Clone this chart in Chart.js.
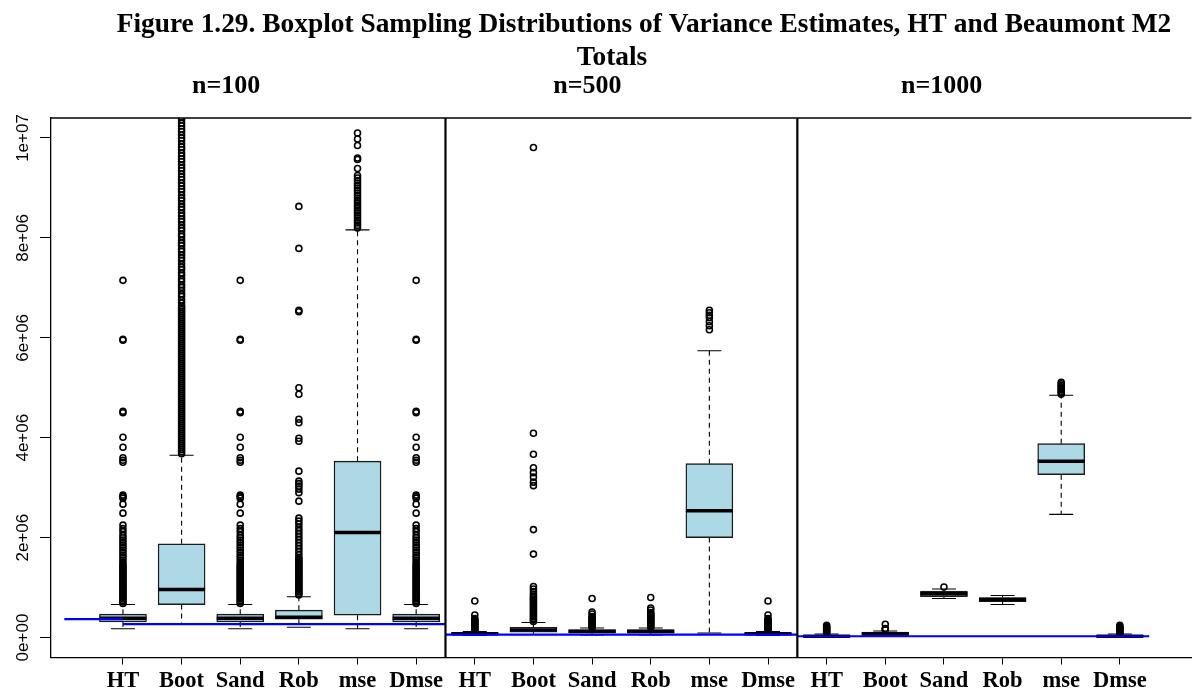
<!DOCTYPE html>
<html>
<head>
<meta charset="utf-8">
<script src="https://cdn.jsdelivr.net/npm/chart.js@4.4.0/dist/chart.umd.min.js"></script>
<style>
  html, body { margin: 0; padding: 0; background: #fff; overflow: hidden; }
</style>
</head>
<body>
<canvas id="boxChart" width="1197" height="691"></canvas>
<script>
// all values in millions (1e6)
const methods = ["HT", "Boot", "Sand", "Rob", "mse", "Dmse"];
const sampleSizes = ["n=100", "n=500", "n=1000"];
const titleLines = ["Figure 1.29. Boxplot Sampling Distributions of Variance Estimates, HT and Beaumont M2", "Totals"];
const xPositions = [1, 2, 3, 4, 5, 6, 7, 8, 9, 10, 11, 12, 13, 14, 15, 16, 17, 18];
const xTickLabels = methods.concat(methods, methods);
const yTickValues = [0, 2, 4, 6, 8, 10];
const yTickLabels = ["0e+00", "2e+06", "4e+06", "6e+06", "8e+06", "1e+07"];

// five number summaries: HT, Boot, Sand, Rob, mse, Dmse
const lo100 = [0.177, 0.28, 0.177, 0.205, 0.177, 0.177];
const q1_100 = [0.312, 0.66, 0.312, 0.366, 0.447, 0.312];
const med100 = [0.385, 0.96, 0.385, 0.405, 2.10, 0.385];
const q3_100 = [0.467, 1.875, 0.467, 0.547, 3.53, 0.467];
const hi100 = [0.66, 3.65, 0.66, 0.815, 8.16, 0.66];

const lo500 = [0.04, 0.06, 0.05, 0.05, 0.09, 0.04];
const q1_500 = [0.065, 0.105, 0.097, 0.09, 2.0, 0.065];
const med500 = [0.075, 0.15, 0.12, 0.12, 2.54, 0.075];
const q3_500 = [0.09, 0.205, 0.157, 0.157, 3.48, 0.09];
const hi500 = [0.12, 0.30, 0.19, 0.19, 5.74, 0.12];

const lo1000 = [0.0, 0.02, 0.78, 0.66, 2.465, 0.0];
const q1_1000 = [0.01, 0.045, 0.82, 0.72, 3.26, 0.01];
const med1000 = [0.025, 0.07, 0.875, 0.76, 3.53, 0.025];
const q3_1000 = [0.045, 0.11, 0.93, 0.80, 3.88, 0.045];
const hi1000 = [0.07, 0.13, 0.97, 0.84, 4.85, 0.07];

// outliers, n=100
const htOut100 = [7.15, 5.97, 5.95, 4.53, 4.50, 4.01, 3.81, 3.60, 3.55, 3.51, 2.85, 2.82, 2.79, 2.67, 2.49,
  2.25, 2.18, 2.12, 2.05, 2.00, 1.95, 1.90, 1.85, 1.80, 1.75, 1.70, 1.65, 1.60, 1.55, 1.50,
  1.46, 1.43, 1.40, 1.37, 1.34, 1.31, 1.28, 1.25, 1.22, 1.19, 1.16, 1.13, 1.10, 1.07, 1.04,
  1.01, 0.98, 0.95, 0.92, 0.89, 0.86, 0.83, 0.80, 0.77, 0.74, 0.71, 0.68];
const sandOut100 = htOut100; // Sand and Dmse columns look the same as HT
const dmseOut100 = htOut100;
const bootOut100 = [3.68, 3.72, 3.76, 3.80, 3.84, 3.88, 3.92, 3.96, 4.00, 4.04, 4.08, 4.12, 4.16, 4.20, 4.24,
  4.28, 4.32, 4.36, 4.40, 4.44, 4.48, 4.52, 4.56, 4.60, 4.64, 4.68, 4.72, 4.76, 4.80, 4.84,
  4.88, 4.92, 4.96, 5.00, 5.04, 5.08, 5.12, 5.16, 5.20, 5.24, 5.28, 5.32, 5.36, 5.40, 5.44,
  5.48, 5.52, 5.56, 5.60, 5.64, 5.68, 5.72, 5.76, 5.80, 5.84, 5.88, 5.92, 5.96, 6.00, 6.04,
  6.08, 6.12, 6.16, 6.20, 6.24, 6.28, 6.32, 6.36, 6.40, 6.44, 6.48, 6.52, 6.56, 6.60, 6.64,
  6.70, 6.76, 6.83, 6.88, 6.95, 7.01, 7.06, 7.13, 7.18, 7.25, 7.30, 7.37, 7.42, 7.48, 7.55,
  7.60, 7.66, 7.73, 7.78, 7.85, 7.90, 7.96, 8.03, 8.08, 8.15, 8.20, 8.26, 8.33, 8.38, 8.44,
  8.50, 8.57, 8.62, 8.68, 8.75, 8.80, 8.86, 8.93, 8.98, 9.04, 9.10, 9.17, 9.22, 9.28, 9.35,
  9.40, 9.46, 9.53, 9.58, 9.64, 9.70, 9.77, 9.82, 9.88, 9.95, 10.00, 10.06, 10.13, 10.18, 10.24,
  10.30, 10.37, 10.42];
const robOut100 = [8.63, 7.79, 6.55, 6.52, 5.00, 4.87, 4.37, 4.30, 3.99, 3.93, 3.33, 3.13, 3.08, 3.03, 2.97,
  2.90, 2.73, 2.39, 2.33, 2.27, 2.20, 2.14, 2.08, 2.02, 1.96, 1.90, 1.84, 1.78, 1.72, 1.66,
  1.60, 1.57, 1.54, 1.51, 1.48, 1.45, 1.42, 1.39, 1.36, 1.33, 1.30, 1.27, 1.24, 1.21, 1.18,
  1.15, 1.12, 1.09, 1.06, 1.03, 1.00, 0.97, 0.94, 0.91, 0.88, 0.85];
const mseOut100 = [10.10, 9.98, 9.85, 9.60, 9.57, 9.39, 9.25, 9.20, 9.15, 9.10, 9.05, 9.00, 8.95, 8.90, 8.85,
  8.80, 8.75, 8.70, 8.65, 8.60, 8.55, 8.50, 8.45, 8.40, 8.35, 8.30, 8.25, 8.20];

// outliers, n=500
const htOut500 = [0.73, 0.45, 0.38, 0.36, 0.34, 0.32, 0.30, 0.28, 0.26, 0.24, 0.22, 0.20, 0.18, 0.16, 0.14, 0.12];
const dmseOut500 = htOut500;
const bootOut500 = [9.81, 4.09, 3.67, 3.40, 3.30, 3.21, 3.11, 3.04, 2.16, 1.67, 1.02, 0.97, 0.92, 0.87, 0.83,
  0.80, 0.77, 0.74, 0.71, 0.68, 0.65, 0.62, 0.59, 0.56, 0.53, 0.50, 0.47, 0.44, 0.41, 0.38, 0.35, 0.32];
const sandOut500 = [0.78, 0.51, 0.47, 0.42, 0.40, 0.38, 0.36, 0.34, 0.32, 0.30, 0.28, 0.26, 0.24, 0.22, 0.20];
const robOut500 = [0.80, 0.59, 0.55, 0.50, 0.48, 0.46, 0.44, 0.42, 0.40, 0.38, 0.36, 0.34, 0.32, 0.30, 0.28,
  0.26, 0.24, 0.22, 0.20];
const mseOut500 = [6.55, 6.50, 6.45, 6.40, 6.32, 6.24, 6.16];

// outliers, n=1000
const htOut1000 = [0.245, 0.22, 0.20, 0.18, 0.16, 0.14, 0.12, 0.10, 0.08];
const dmseOut1000 = htOut1000;
const bootOut1000 = [0.265, 0.18, 0.17, 0.16];
const sandOut1000 = [1.01];
const robOut1000 = [];
const mseOut1000 = [5.11, 5.08, 5.05, 5.02, 4.99, 4.96, 4.93, 4.90, 4.87];

// blue reference lines (from, to, level)
const refFrom = [0, 1, 6.5, 12.5];
const refTo = [1, 6.5, 12.5, 18.5];
const refLevel = [0.37, 0.27, 0.056, 0.025];

const panelBreaks = [6.5, 12.5];
const panelLabelAt = [2.76, 8.92, 14.96];

const SERIF = "'Liberation Serif', 'Times New Roman', Times, serif";
const SANS = "'Liberation Sans', Arial, Helvetica, sans-serif";
const BOX_W = 47;
const STAPLE_W = 24;

const summaries = [
  [lo100, q1_100, med100, q3_100, hi100, [htOut100, bootOut100, sandOut100, robOut100, mseOut100, dmseOut100]],
  [lo500, q1_500, med500, q3_500, hi500, [htOut500, bootOut500, sandOut500, robOut500, mseOut500, dmseOut500]],
  [lo1000, q1_1000, med1000, q3_1000, hi1000, [htOut1000, bootOut1000, sandOut1000, robOut1000, mseOut1000, dmseOut1000]]
];

const groups = [];
summaries.forEach((s, p) => {
  methods.forEach((m, i) => {
    groups.push({ x: xPositions[p * 6 + i], lo: s[0][i], q1: s[1][i], med: s[2][i], q3: s[3][i], hi: s[4][i], out: s[5][i] });
  });
});

const boxes = groups.map(g => ({ x: g.x, y: [g.q1, g.q3] }));
const outliers = [];
groups.forEach(g => g.out.forEach(v => outliers.push({ x: g.x, y: v })));
const refPoints = [];
refLevel.forEach((v, i) => {
  refPoints.push({ x: refFrom[i], y: v }, { x: refTo[i], y: v }, { x: refTo[i], y: null });
});

const boxPlotParts = {
  id: "boxPlotParts",
  beforeDatasetsDraw(chart) {
    const { ctx, scales: { x, y } } = chart;
    ctx.save();
    ctx.strokeStyle = "#000";
    ctx.lineWidth = 1.1;
    groups.forEach(g => {
      const px = x.getPixelForValue(g.x);
      ctx.setLineDash([5, 4]);
      ctx.beginPath();
      ctx.moveTo(px, y.getPixelForValue(g.q3));
      ctx.lineTo(px, y.getPixelForValue(g.hi));
      ctx.moveTo(px, y.getPixelForValue(g.q1));
      ctx.lineTo(px, y.getPixelForValue(g.lo));
      ctx.stroke();
      ctx.setLineDash([]);
      ctx.beginPath();
      [g.lo, g.hi].forEach(v => {
        const py = y.getPixelForValue(v);
        ctx.moveTo(px - STAPLE_W / 2, py);
        ctx.lineTo(px + STAPLE_W / 2, py);
      });
      ctx.stroke();
    });
    ctx.restore();
  },
  afterDatasetDraw(chart, args) {
    if (args.index !== 0) return;
    const { ctx, scales: { x, y } } = chart;
    ctx.save();
    ctx.strokeStyle = "#000";
    ctx.lineWidth = 3.5;
    ctx.beginPath();
    groups.forEach(g => {
      const px = x.getPixelForValue(g.x);
      const py = y.getPixelForValue(g.med);
      ctx.moveTo(px - BOX_W / 2, py);
      ctx.lineTo(px + BOX_W / 2, py);
    });
    ctx.stroke();
    ctx.restore();
  },
  afterDraw(chart) {
    const { ctx, chartArea: a, scales: { x, y } } = chart;
    ctx.save();
    ctx.strokeStyle = "#000";
    // panel separators
    ctx.lineWidth = 2.2;
    panelBreaks.forEach(b => {
      const px = x.getPixelForValue(b);
      ctx.beginPath();
      ctx.moveTo(px, a.top);
      ctx.lineTo(px, a.bottom);
      ctx.stroke();
    });
    // top frame
    ctx.lineWidth = 1.3;
    ctx.beginPath();
    ctx.moveTo(a.left, a.top);
    ctx.lineTo(a.right, a.top);
    ctx.stroke();
    // rotated y tick labels
    ctx.fillStyle = "#000";
    ctx.font = "17px " + SANS;
    ctx.textAlign = "center";
    ctx.textBaseline = "alphabetic";
    yTickValues.forEach((v, i) => {
      ctx.save();
      ctx.translate(28, y.getPixelForValue(v));
      ctx.rotate(-Math.PI / 2);
      ctx.fillText(yTickLabels[i], 0, 0);
      ctx.restore();
    });
    // title, two lines
    ctx.textBaseline = "middle";
    ctx.font = "bold 27.4px " + SERIF;
    ctx.fillText(titleLines[0], 644, 24.5);
    ctx.fillText(titleLines[1], 612, 57.5);
    // panel headings
    ctx.font = "bold 26px " + SERIF;
    sampleSizes.forEach((s, i) => {
      ctx.fillText(s, x.getPixelForValue(panelLabelAt[i]), 86);
    });
    ctx.restore();
  }
};

new Chart(document.getElementById("boxChart"), {
  type: "bar",
  data: {
    datasets: [
      {
        type: "bar",
        data: boxes,
        backgroundColor: "#ADD8E6",
        borderColor: "#1a1a1a",
        borderWidth: 1.4,
        borderSkipped: false,
        barThickness: BOX_W,
        order: 3
      },
      {
        type: "scatter",
        data: outliers,
        pointStyle: "circle",
        pointRadius: 3,
        pointBorderWidth: 1.6,
        pointBorderColor: "#000",
        pointBackgroundColor: "rgba(0,0,0,0)",
        order: 2
      },
      {
        type: "line",
        data: refPoints,
        borderColor: "#0000FF",
        borderWidth: 2.2,
        pointRadius: 0,
        fill: false,
        spanGaps: false,
        tension: 0,
        order: 1
      }
    ]
  },
  options: {
    responsive: false,
    animation: false,
    layout: { padding: { left: 40, right: 0, top: 118, bottom: -6 } },
    plugins: {
      legend: { display: false },
      tooltip: { enabled: false },
      title: { display: false }
    },
    scales: {
      x: {
        type: "linear",
        min: -0.227,
        max: 19.22,
        bounds: "data",
        offset: false,
        afterBuildTicks: axis => { axis.ticks = xPositions.map(v => ({ value: v })); },
        ticks: {
          autoSkip: false,
          maxRotation: 0,
          minRotation: 0,
          padding: 5,
          color: "#000",
          font: { family: SERIF, size: 22.5, weight: "bold", lineHeight: 1.0 },
          callback: (v, i) => xTickLabels[i]
        },
        grid: { drawOnChartArea: false, offset: false, tickLength: 7, tickColor: "#000", tickWidth: 1 },
        border: { display: true, color: "#000", width: 1.3 }
      },
      y: {
        type: "linear",
        min: -0.4,
        max: 10.4,
        bounds: "data",
        afterBuildTicks: axis => { axis.ticks = yTickValues.map(v => ({ value: v })); },
        ticks: { display: false },
        grid: { drawOnChartArea: false, tickLength: 11, tickColor: "#000", tickWidth: 1 },
        border: { display: true, color: "#000", width: 1.3 }
      }
    }
  },
  plugins: [boxPlotParts]
});
</script>
</body>
</html>
